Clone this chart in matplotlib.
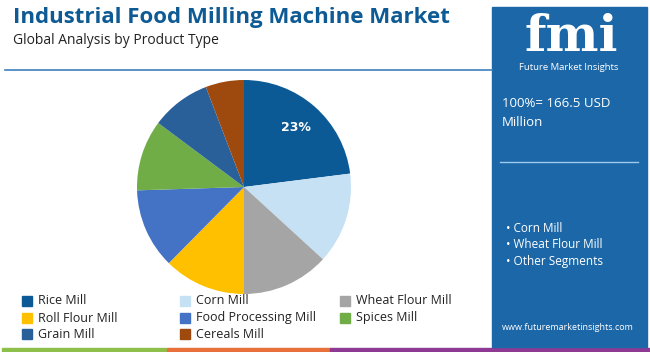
import matplotlib.pyplot as plt
from matplotlib.patches import Rectangle

# data
segments = ["Rice Mill", "Corn Mill", "Wheat Flour Mill", "Roll Flour Mill",
            "Food Processing Mill", "Spices Mill", "Grain Mill", "Cereals Mill"]
shares = [23.0, 13.8, 13.2, 12.4, 12.1, 10.7, 9.0, 5.8]
colors = ["#0b5a95", "#c6e1f4", "#a5a5a5", "#ffc000",
          "#4472c4", "#70ad47", "#2a6099", "#9e4a0e"]
total_text = "100%= 166.5 USD\nMillion"
highlights = ["Corn Mill", "Wheat Flour Mill", "Other Segments"]

W, H = 650, 352
FONT = "Open Sans"
PANEL = "#1b67a7"
fig = plt.figure(figsize=(W / 100, H / 100), dpi=100)
fig.patch.set_facecolor("white")


def px(x, y):
    # pixel coords (top-left origin) -> figure fraction
    return x / W, 1 - y / H


# title block
fig.text(*px(13, 18), "Industrial Food Milling Machine Market", fontsize=16,
         fontweight="bold", color="#0e5a94", family=FONT, va="center")
fig.text(*px(13, 41), "Global Analysis by Product Type", fontsize=10,
         color="#222222", family=FONT, va="center")
fig.add_artist(plt.Line2D([5 / W, 492 / W], [1 - 70 / H] * 2, color="#3f7fbf", lw=1.2))

# pie
cx, cy, r = 244, 187, 107
ax = fig.add_axes([(cx - r) / W, (H - cy - r) / H, 2 * r / W, 2 * r / H])
wedges, _, autotexts = ax.pie(shares, colors=colors, startangle=90, counterclock=False,
                              autopct=lambda p: f"{p:.0f}%" if p > 20 else "",
                              pctdistance=0.74,
                              wedgeprops=dict(linewidth=0))
for t in autotexts:
    t.set_color("white")
    t.set_fontweight("bold")
    t.set_fontsize(9)
    t.set_family("DejaVu Sans")
ax.set_xlim(-1, 1)
ax.set_ylim(-1, 1)
ax.set_aspect("equal")

# legend, 3 columns
col_x = [27, 185, 345]
row_y = [301, 318, 334]
for i, (name, c) in enumerate(zip(segments, colors)):
    x, y = col_x[i % 3], row_y[i // 3]
    fig.add_artist(Rectangle(px(x - 5, y + 5), 10 / W, 10 / H, color=c))
    fig.text(*px(x + 11, y), name, fontsize=9, color="#222222", family=FONT, va="center")

# bottom coloured strip
for x0, x1, c in [(2, 166, "#8cc04b"), (167, 330, "#e8703a"), (330, 650, "#8e3a95")]:
    fig.add_artist(Rectangle((x0 / W, 0), (x1 - x0) / W, 4 / H, color=c))

# right panel
fig.add_artist(Rectangle(px(492, 347), 155 / W, 340 / H, color=PANEL))
fig.text(*px(571, 51), "fmi", fontsize=36, fontweight="bold", color="white",
         family="DejaVu Serif", ha="center", va="baseline")
# striped look of the logo
for yy in range(15, 53, 4):
    fig.add_artist(plt.Line2D([510 / W, 632 / W], [1 - yy / H] * 2, color=PANEL, lw=0.8))
fig.text(*px(569, 67), "Future Market Insights", fontsize=6.8, color="white",
         family=FONT, ha="center", va="center")
fig.text(*px(502, 113), total_text, fontsize=9.5, color="white", family=FONT,
         va="center", linespacing=1.6)
fig.add_artist(plt.Line2D([500 / W, 638 / W], [1 - 162 / H] * 2, color="#9ccaef", lw=1))
for i, h in enumerate(highlights):
    fig.text(*px(506, 228 + 17 * i), "• " + h, fontsize=8.5, color="white",
             family=FONT, va="center")
fig.text(*px(568, 327), "www.futuremarketinsights.com", fontsize=6.5, color="white",
         family=FONT, ha="center", va="center")

fig.savefig("out.png", dpi=100)
